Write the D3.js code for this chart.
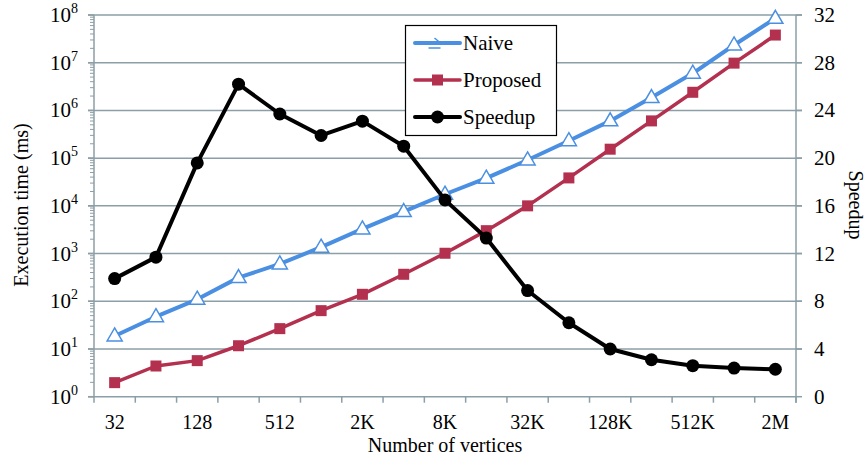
<!DOCTYPE html>
<html>
<head>
<meta charset="utf-8">
<script src="https://cdn.jsdelivr.net/npm/d3@7"></script>
<style>
  html, body { margin: 0; padding: 0; background: #fff; }
  svg { display: block; font-family: "Liberation Serif", "Times New Roman", serif; }
</style>
</head>
<body>
<svg id="chart" width="867" height="459"></svg>
<script>
// Graph sizes (number of vertices)
const categories = ["32","64","128","256","512","1K","2K","4K","8K","16K","32K","64K","128K","256K","512K","1M","2M"];
// Labelled x ticks
const xTickLabels = ["32","128","512","2K","8K","32K","128K","512K","2M"];
// Execution time in ms (left, log axis)
const naive    = [18.7, 47.5, 110, 313, 605, 1360, 3280, 7550, 17500, 38000, 91500, 231000, 603000, 1.86e6, 6.0e6, 2.35e7, 8.5e7];
const proposed = [1.97, 4.4, 5.7, 11.7, 26.7, 63.6, 140, 368, 1015, 3020, 10000, 38500, 154000, 603000, 2.4e6, 9.8e6, 3.8e7];
// Speedup (right, linear axis)
const speedup  = [9.9, 11.7, 19.6, 26.2, 23.7, 21.9, 23.1, 21.0, 16.5, 13.3, 8.9, 6.2, 4.0, 3.1, 2.6, 2.4, 2.3];
// Axis ticks
const leftTicks  = [1e0, 1e1, 1e2, 1e3, 1e4, 1e5, 1e6, 1e7, 1e8];
const rightTicks = [0, 4, 8, 12, 16, 20, 24, 28, 32];

const seriesNames = ["Naive", "Proposed", "Speedup"];
const colors = { Naive: "#4a8fe1", Proposed: "#b3304f", Speedup: "#000000" };
const gridColor = "#8c9ea6";
const FS = 20;

const svg = d3.select("#chart");
const L = 94, R = 796, T = 15, B = 396.7;

const x = d3.scaleBand().domain(categories).range([L, R]).paddingInner(0).paddingOuter(0);
const cx = d => x(d) + x.bandwidth() / 2;
const y = d3.scaleLog().domain([1, 1e8]).range([B, T]);
const y2 = d3.scaleLinear().domain([0, 32]).range([B, T]);

// Horizontal gridlines at each decade
svg.append("g").selectAll("line").data(leftTicks.slice(1)).join("line")
  .attr("x1", L - 6).attr("x2", R + 6)
  .attr("y1", d => y(d)).attr("y2", d => y(d))
  .attr("stroke", gridColor).attr("stroke-width", 1.5);

// Left log axis with minor ticks
const minor = [];
for (let e = 0; e < 8; e++) for (let k = 2; k <= 9; k++) minor.push(k * Math.pow(10, e));
const leftAxis = svg.append("g").attr("transform", `translate(${L},0)`);
leftAxis.append("line").attr("x1", 0).attr("x2", 0).attr("y1", T).attr("y2", B)
  .attr("stroke", gridColor).attr("stroke-width", 1.5);
leftAxis.selectAll("line.minor").data(minor).join("line").attr("class", "minor")
  .attr("x1", -4).attr("x2", 0).attr("y1", d => y(d)).attr("y2", d => y(d))
  .attr("stroke", gridColor).attr("stroke-width", 1);
leftAxis.selectAll("line.major").data(leftTicks).join("line").attr("class", "major")
  .attr("x1", -6).attr("x2", 0).attr("y1", d => y(d)).attr("y2", d => y(d))
  .attr("stroke", gridColor).attr("stroke-width", 1.5);
const lt = leftAxis.selectAll("text").data(leftTicks).join("text")
  .attr("x", -16).attr("y", d => y(d) + 7)
  .attr("text-anchor", "end").attr("font-size", FS + 1).attr("fill", "#000");
lt.append("tspan").text("10");
lt.append("tspan").attr("dy", -9).attr("font-size", 14).text(d => Math.round(Math.log10(d)));

// Right linear axis
const rightAxis = svg.append("g").attr("transform", `translate(${R},0)`);
rightAxis.append("line").attr("x1", 0).attr("x2", 0).attr("y1", T).attr("y2", B + 6)
  .attr("stroke", gridColor).attr("stroke-width", 1.5);
rightAxis.selectAll("line.tick").data(rightTicks).join("line").attr("class", "tick")
  .attr("x1", 0).attr("x2", 6).attr("y1", d => y2(d)).attr("y2", d => y2(d))
  .attr("stroke", gridColor).attr("stroke-width", 1.5);
rightAxis.selectAll("text").data(rightTicks).join("text")
  .attr("x", 18).attr("y", d => y2(d) + 7)
  .attr("font-size", FS + 1).attr("fill", "#000").text(d => d);

// Bottom category axis
const bottom = svg.append("g");
bottom.append("line").attr("x1", L - 6).attr("x2", R).attr("y1", B).attr("y2", B)
  .attr("stroke", gridColor).attr("stroke-width", 1.5);
const bounds = categories.map(c => x(c)).concat([R]);
bottom.selectAll("line.tick").data(bounds).join("line").attr("class", "tick")
  .attr("x1", d => d).attr("x2", d => d).attr("y1", B).attr("y2", B + 6)
  .attr("stroke", gridColor).attr("stroke-width", 1.5);
bottom.selectAll("text").data(xTickLabels).join("text")
  .attr("x", d => cx(d)).attr("y", 429)
  .attr("text-anchor", "middle").attr("font-size", FS).attr("fill", "#000").text(d => d);

// Axis titles
svg.append("text").attr("x", (L + R) / 2).attr("y", 452).attr("text-anchor", "middle")
  .attr("font-size", FS).text("Number of vertices");
svg.append("text").attr("transform", "translate(28,205) rotate(-90)").attr("text-anchor", "middle")
  .attr("font-size", FS).text("Execution time (ms)");
svg.append("text").attr("transform", "translate(849,205) rotate(90)").attr("text-anchor", "middle")
  .attr("font-size", FS).text("Speedup");

// Series
const lineLog = d3.line().x((d, i) => cx(categories[i])).y(d => y(d));
const lineLin = d3.line().x((d, i) => cx(categories[i])).y(d => y2(d));

const triPath = (px, py, s) => `M${px},${py - s * 0.62}L${px + s * 0.58},${py + s * 0.38}L${px - s * 0.58},${py + s * 0.38}Z`;

// Naive
svg.append("path").datum(naive).attr("d", lineLog).attr("fill", "none")
  .attr("stroke", colors.Naive).attr("stroke-width", 4).attr("stroke-linejoin", "round");
svg.append("g").selectAll("path").data(naive).join("path")
  .attr("d", (d, i) => triPath(cx(categories[i]), y(d), 13))
  .attr("fill", "#fff").attr("stroke", colors.Naive).attr("stroke-width", 1.5);

// Proposed
svg.append("path").datum(proposed).attr("d", lineLog).attr("fill", "none")
  .attr("stroke", colors.Proposed).attr("stroke-width", 3.5).attr("stroke-linejoin", "round");
svg.append("g").selectAll("rect").data(proposed).join("rect")
  .attr("x", (d, i) => cx(categories[i]) - 5.5).attr("y", d => y(d) - 5.5)
  .attr("width", 11).attr("height", 11).attr("fill", colors.Proposed);

// Speedup
svg.append("path").datum(speedup).attr("d", lineLin).attr("fill", "none")
  .attr("stroke", colors.Speedup).attr("stroke-width", 4).attr("stroke-linejoin", "round");
svg.append("g").selectAll("circle").data(speedup).join("circle")
  .attr("cx", (d, i) => cx(categories[i])).attr("cy", d => y2(d)).attr("r", 6.5)
  .attr("fill", colors.Speedup);

// Legend
const lg = svg.append("g");
lg.append("rect").attr("x", 405.5).attr("y", 25.5).attr("width", 151).attr("height", 110)
  .attr("fill", "#fff").attr("stroke", "#000").attr("stroke-width", 1.2);
const rowY = [43, 80, 117];
seriesNames.forEach((name, i) => {
  const yy = rowY[i], mx = 437.5;
  lg.append("line").attr("x1", 415).attr("x2", 460).attr("y1", yy).attr("y2", yy)
    .attr("stroke", colors[name]).attr("stroke-width", name === "Proposed" ? 3.5 : 4)
    .attr("stroke-linecap", "round");
  if (name === "Naive") {
    lg.append("path").attr("d", `M${mx - 3},${yy - 5}L${mx + 3},${yy}M${mx - 9},${yy + 5}H${mx + 3}`)
      .attr("fill", "none").attr("stroke", colors.Naive).attr("stroke-width", 1.5);
  } else if (name === "Proposed") {
    lg.append("rect").attr("x", mx - 5.5).attr("y", yy - 5.5).attr("width", 11).attr("height", 11)
      .attr("fill", colors.Proposed);
  } else {
    lg.append("circle").attr("cx", mx).attr("cy", yy).attr("r", 6.5).attr("fill", "#000");
  }
  lg.append("text").attr("x", 463).attr("y", yy + 7).attr("font-size", FS + 1).text(name);
});
</script>
</body>
</html>
